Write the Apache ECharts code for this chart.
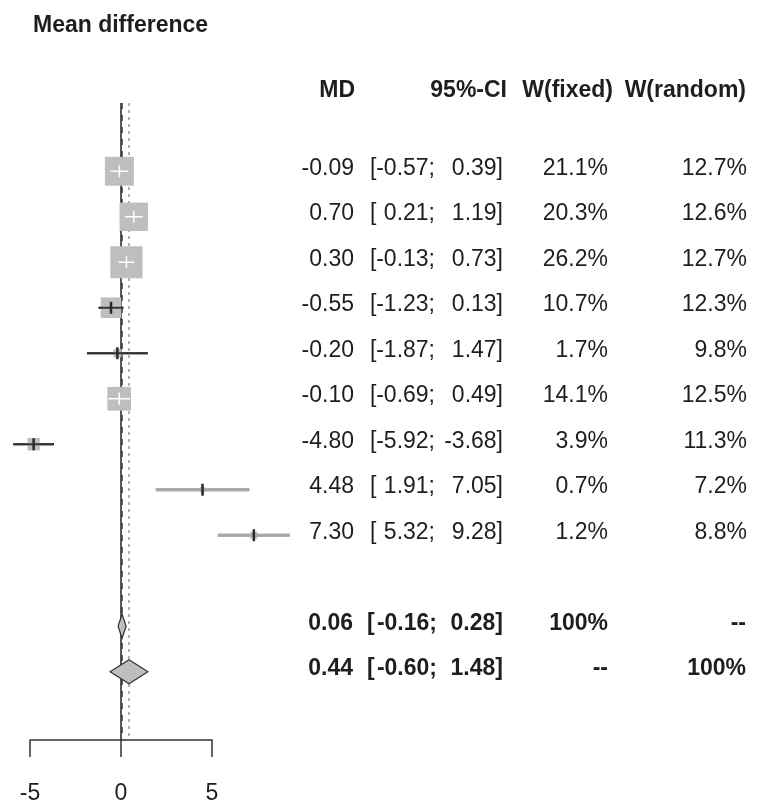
<!DOCTYPE html>
<html>
<head>
<meta charset="utf-8">
<script src="https://cdn.jsdelivr.net/npm/echarts@6/dist/echarts.min.js"></script>
<style>
html,body{margin:0;padding:0;background:#fff;}
#chart{width:765px;height:805px;}
</style>
</head>
<body>
<div id="chart"></div>
<script>
// ---- data ----
const chartTitle = 'Mean difference';
const columnHeaders = ['MD', '95%-CI', 'W(fixed)', 'W(random)'];
const studyMD     = [-0.09, 0.70, 0.30, -0.55, -0.20, -0.10, -4.80, 4.48, 7.30];
const studyLower  = [-0.57, 0.21, -0.13, -1.23, -1.87, -0.69, -5.92, 1.91, 5.32];
const studyUpper  = [0.39, 1.19, 0.73, 0.13, 1.47, 0.49, -3.68, 7.05, 9.28];
const weightFixed = [21.1, 20.3, 26.2, 10.7, 1.7, 14.1, 3.9, 0.7, 1.2];
const weightRandom= [12.7, 12.6, 12.7, 12.3, 9.8, 12.5, 11.3, 7.2, 8.8];
const summaryMD     = [0.06, 0.44];
const summaryLower  = [-0.16, -0.60];
const summaryUpper  = [0.28, 1.48];
const summaryWFixed = ['100%', '--'];
const summaryWRandom= ['--', '100%'];
const xTicks = [-5, 0, 5];

// ---- layout / style ----
const FONT = '"Liberation Sans", Arial, Helvetica, sans-serif';
const FS = 23;
const TXT = '#1e1e1e';
const studyRows = studyMD.map((_, i) => i);
const summaryRows = [10, 11];
const headerRow = -1.7;
const lightLineRows = [7, 8];   // rows whose CI line renders light gray in the reference

const chart = echarts.init(document.getElementById('chart'));

function txt(x, y, s, align, bold) {
  return {
    type: 'text',
    style: {
      x: x, y: y, text: s,
      textAlign: align, align: align,
      textVerticalAlign: 'middle', verticalAlign: 'middle',
      fontSize: FS, fontFamily: FONT, fontWeight: bold ? 'bold' : 'normal',
      fill: TXT
    }
  };
}

const studyData = studyMD.map((m, i) => [m, studyRows[i], studyLower[i], studyUpper[i], weightFixed[i]]);
const summaryData = summaryMD.map((m, i) => [m, summaryRows[i], summaryLower[i], summaryUpper[i]]);

const option = {
  animation: false,
  backgroundColor: '#fff',
  title: {
    text: chartTitle, left: 28, top: 9,
    textStyle: { fontFamily: FONT, fontSize: 23, fontWeight: 'bold', color: TXT }
  },
  grid: { left: 30, width: 182, top: 103, bottom: 63 },
  xAxis: {
    type: 'value', min: -5, max: 5, interval: 5,
    axisLine: { show: true, onZero: false, lineStyle: { color: '#333', width: 1.5 } },
    axisTick: { show: true, length: 17, lineStyle: { color: '#333', width: 1.5 } },
    axisLabel: { fontFamily: FONT, fontSize: FS, color: TXT, margin: 42,
      formatter: v => xTicks.indexOf(v) >= 0 ? String(v) : '' },
    splitLine: { show: false }
  },
  yAxis: { type: 'value', min: -1.5, max: 12.5, inverse: true, show: false },
  series: [
    {
      type: 'line', data: [], z: 1, silent: true,
      markLine: {
        silent: true, symbol: 'none', label: { show: false },
        data: [
          { xAxis: 0, lineStyle: { type: 'solid', color: '#222', width: 1.5 } },
          { xAxis: summaryMD[0], lineStyle: { type: [6, 6], color: '#333', width: 1.5 } },
          { xAxis: summaryMD[1], lineStyle: { type: [3, 4], color: '#999', width: 1.5 } }
        ]
      }
    },
    {
      type: 'custom', z: 5, clip: false,
      data: studyData,
      encode: { x: 0, y: 1 },
      renderItem: function (params, api) {
        const c = api.coord([api.value(0), api.value(1)]);
        const lo = api.coord([api.value(2), api.value(1)]);
        const hi = api.coord([api.value(3), api.value(1)]);
        const side = 6.3 * Math.sqrt(api.value(4));
        const inside = (hi[0] - lo[0]) < side;
        const light = lightLineRows.indexOf(params.dataIndex) >= 0;
        const lineCol = inside ? '#ffffff' : (light ? '#a8a8a8' : '#333333');
        const lineW = light ? 3 : 2;
        const tickCol = inside ? '#ffffff' : '#2a2a2a';
        const children = [];
        if (!inside) {
          children.push({ type: 'line', shape: { x1: lo[0], y1: c[1], x2: hi[0], y2: c[1] },
            style: { stroke: lineCol, lineWidth: lineW } });
        }
        children.push({ type: 'rect', shape: { x: c[0] - side / 2, y: c[1] - side / 2, width: side, height: side },
          style: { fill: '#bebebe' } });
        children.push({ type: 'line', shape: { x1: lo[0], y1: c[1], x2: hi[0], y2: c[1] },
          style: { stroke: lineCol, lineWidth: inside ? 1.5 : lineW } });
        children.push({ type: 'line', shape: { x1: c[0], y1: c[1] - 6, x2: c[0], y2: c[1] + 6 },
          style: { stroke: tickCol, lineWidth: inside ? 1.5 : 2.5 } });
        return { type: 'group', children: children };
      }
    },
    {
      type: 'custom', z: 5, clip: false,
      data: summaryData,
      encode: { x: 0, y: 1 },
      renderItem: function (params, api) {
        const c = api.coord([api.value(0), api.value(1)]);
        const lo = api.coord([api.value(2), api.value(1)]);
        const hi = api.coord([api.value(3), api.value(1)]);
        const h = 12;
        return {
          type: 'polygon',
          shape: { points: [[lo[0], c[1]], [c[0], c[1] - h], [hi[0], c[1]], [c[0], c[1] + h]] },
          style: { fill: '#bebebe', stroke: '#333', lineWidth: 1.2 }
        };
      }
    },
    {
      type: 'custom', z: 6, clip: false,
      data: [[0, headerRow]].concat(studyRows.map(r => [0, r])).concat(summaryRows.map(r => [0, r])),
      encode: { x: 0, y: 1 },
      renderItem: function (params, api) {
        const i = params.dataIndex;
        const y = api.coord([0, api.value(1)])[1] - 3;
        if (i === 0) {
          return { type: 'group', children: [
            txt(355, y, columnHeaders[0], 'right', true),
            txt(507, y, columnHeaders[1], 'right', true),
            txt(613, y, columnHeaders[2], 'right', true),
            txt(746, y, columnHeaders[3], 'right', true)
          ]};
        }
        const k = i - 1;
        if (k < studyMD.length) {
          return { type: 'group', children: [
            txt(354, y, studyMD[k].toFixed(2), 'right', false),
            txt(370, y, '[', 'left', false),
            txt(435, y, studyLower[k].toFixed(2) + ';', 'right', false),
            txt(503, y, studyUpper[k].toFixed(2) + ']', 'right', false),
            txt(608, y, weightFixed[k].toFixed(1) + '%', 'right', false),
            txt(747, y, weightRandom[k].toFixed(1) + '%', 'right', false)
          ]};
        }
        const s = k - studyMD.length;
        return { type: 'group', children: [
          txt(353, y, summaryMD[s].toFixed(2), 'right', true),
          txt(367, y, '[', 'left', true),
          txt(437, y, summaryLower[s].toFixed(2) + ';', 'right', true),
          txt(503, y, summaryUpper[s].toFixed(2) + ']', 'right', true),
          txt(608, y, summaryWFixed[s], 'right', true),
          txt(746, y, summaryWRandom[s], 'right', true)
        ]};
      }
    }
  ]
};
chart.setOption(option);
</script>
</body>
</html>
